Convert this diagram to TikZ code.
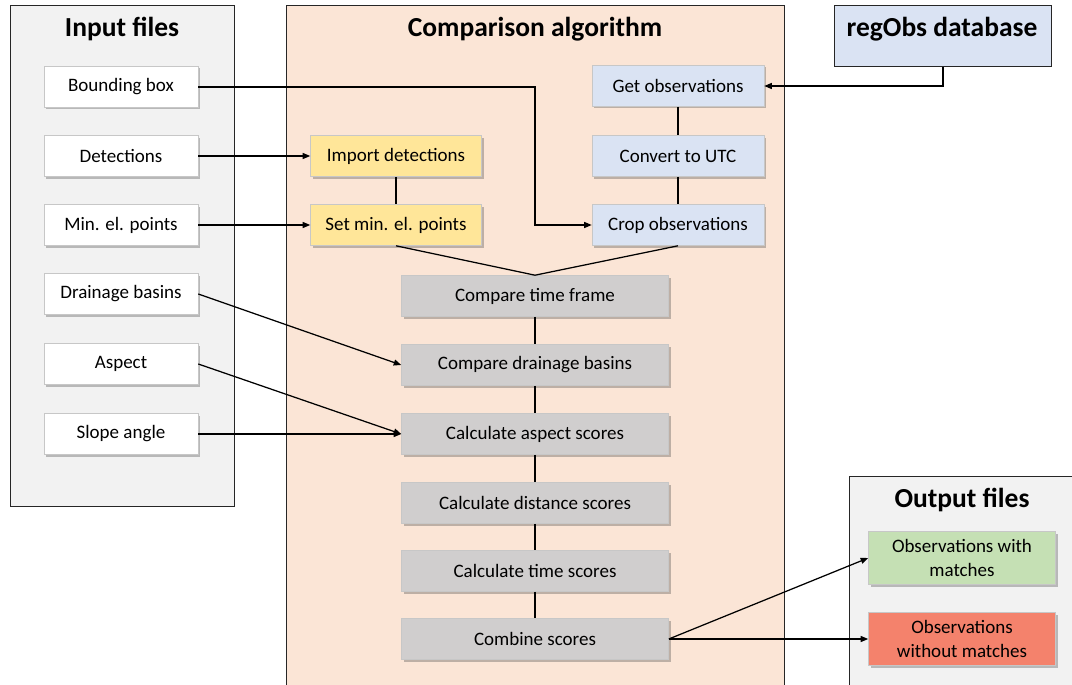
\documentclass[tikz,border=0pt]{standalone}
\usepackage{fontspec}
\setmainfont{Carlito}
\usetikzlibrary{arrows.meta,shadows}
\definecolor{inpanel}{HTML}{F2F2F2}
\definecolor{cmppanel}{HTML}{FBE5D6}
\definecolor{bluebox}{HTML}{DAE3F3}
\definecolor{yellowbox}{HTML}{FFE699}
\definecolor{graybox}{HTML}{D0CECE}
\definecolor{greenbox}{HTML}{C5E0B4}
\definecolor{redbox}{HTML}{F4826C}
\begin{document}
\begin{tikzpicture}[x=1pt,y=-1pt,
  panel/.style={draw=black!85, line width=0.9pt},
  title/.style={font=\fontsize{27.5}{32}\selectfont\bfseries, inner sep=0pt},
  box/.style={draw=black!22, line width=0.6pt, inner sep=0pt, minimum height=41pt,
    font=\fontsize{19}{24}\selectfont, align=center,
    drop shadow={shadow xshift=2pt, shadow yshift=-2pt, opacity=0.35, fill=black!70}},
  infile/.style={box, fill=white, minimum width=154pt},
  ybox/.style={box, fill=yellowbox, minimum width=171pt},
  bbox/.style={box, fill=bluebox, minimum width=172pt},
  gbox/.style={box, fill=graybox, minimum width=267pt},
  obox/.style={box, minimum width=187pt, minimum height=53pt},
  conn/.style={draw=black, line width=1.25pt},
  arr/.style={conn, -{Triangle[length=7.5pt,width=6pt]}}
]
\clip (0,0) rectangle (1072,685);
% panels
\filldraw[panel, fill=inpanel] (10,5) rectangle (234,506);
\filldraw[panel, fill=cmppanel] (286,695) -- (286,5) -- (784,5) -- (784,695);
\fill[inpanel] (849,476) rectangle (1080,695);
\draw[panel] (849,695) -- (849,476) -- (1080,476);
\node[draw=black!85, line width=0.9pt, fill=bluebox, minimum width=217pt, minimum height=61pt,
  anchor=north west, inner sep=0pt] (reg) at (834,5) {};
\node[title] (regt) at (942,29) {regObs database};
\node[title] (int) at (122,29) {Input files};
\node[title] (cmpt) at (535,29) {Comparison algorithm};
\node[title] (outt) at (962,500) {Output files};

% input files
\node[infile] (bb) at (121,87) {Bounding box};
\node[infile] (det) at (121,156) {Detections};
\node[infile] (mel) at (121,225) {Min. el. points};
\node[infile] (drb) at (121,294) {Drainage basins};
\node[infile] (asp) at (121,364) {Aspect};
\node[infile] (slo) at (121,434) {Slope angle};

% yellow
\node[ybox] (imp) at (396,156) {Import detections};
\node[ybox] (setm) at (396,225) {Set min. el. points};

% blue
\node[bbox] (geto) at (678,86) {Get observations};
\node[bbox] (utc) at (678,156) {Convert to UTC};
\node[bbox] (crop) at (678,225) {Crop observations};

% gray
\node[gbox] (ctf) at (535,296) {Compare time frame};
\node[gbox] (cdb) at (535,365) {Compare drainage basins};
\node[gbox] (cas) at (535,434) {Calculate aspect scores};
\node[gbox] (cds) at (535,503) {Calculate distance scores};
\node[gbox] (cts) at (535,571) {Calculate time scores};
\node[gbox] (cmb) at (535,639) {Combine scores};

% output
\node[obox, fill=greenbox] (with) at (962,558) {Observations with\\matches};
\node[obox, fill=redbox] (without) at (962,639) {Observations\\without matches};

% connectors
\coordinate (bend) at (535,87);
\draw[arr] (bb.east) -- (bend) |- (crop.west);
\draw[arr] (det.east) -- (imp.west);
\draw[arr] (mel.east) -- (setm.west);
\draw[arr] (drb.east) -- (cdb.west);
\draw[arr] (asp.east) -- (cas.west);
\draw[arr] (slo.east) -- (cas.west);
\draw[arr] (reg.south) |- (geto.east);
\draw[conn] (geto) -- (utc);
\draw[conn] (utc) -- (crop);
\draw[conn] (imp) -- (setm);
\draw[conn] (setm.south) -- (ctf.north);
\draw[conn] (crop.south) -- (ctf.north);
\draw[conn] (ctf) -- (cdb);
\draw[conn] (cdb) -- (cas);
\draw[conn] (cas) -- (cds);
\draw[conn] (cds) -- (cts);
\draw[conn] (cts) -- (cmb);
\draw[arr] (cmb.east) -- (with.west);
\draw[arr] (cmb.east) -- (without.west);
\end{tikzpicture}
\end{document}
